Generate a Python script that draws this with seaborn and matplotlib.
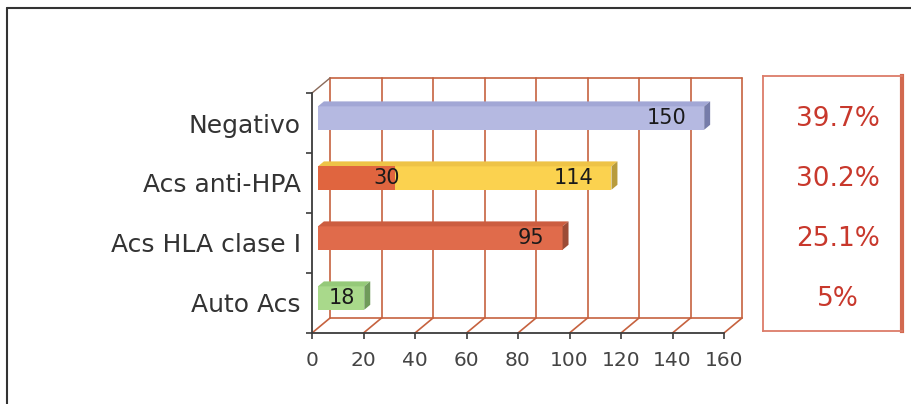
# =====================================================
# ANTICUERPOS - 3D STYLE HORIZONTAL BAR CHART
# =====================================================

import pandas as pd
import matplotlib
matplotlib.use("Agg")
import matplotlib.pyplot as plt
import seaborn as sns
from matplotlib.patches import Polygon
from matplotlib.lines import Line2D
from matplotlib.transforms import blended_transform_factory


# =====================================================
# DATA
# =====================================================

categories = ["Negativo", "Acs anti-HPA", "Acs HLA clase I", "Auto Acs"]
values = [150, 114, 95, 18]
sub_category = "Acs anti-HPA"
sub_value = 30
percent_labels = ["39.7%", "30.2%", "25.1%", "5%"]
x_ticks = [0, 20, 40, 60, 80, 100, 120, 140, 160]

# face colours: front / top / side
front_colors = ["#b5b9e1", "#fbd24f", "#e06b4b", "#a9d98b"]
top_colors = ["#a2a7d5", "#eec347", "#cc5d40", "#95c979"]
side_colors = ["#767ca9", "#b89b3c", "#9c4b36", "#6f9a5a"]
sub_color = "#e0653f"

GRID_COLOR = "#c6623f"
AXIS_COLOR = "#3c3c3c"


# =====================================================
# FIGURE
# =====================================================

sns.set_theme(style="white")
plt.rcParams["font.family"] = ["DejaVu Sans"]

fig = plt.figure(figsize=(9.11, 4.04), dpi=100)
ax = fig.add_axes([312 / 911, 71 / 404, 412 / 911, 240 / 404])

df = pd.DataFrame({"category": categories, "value": values})

BAR_H = 0.39
DX = 7.0      # full depth in x units
DY = 0.25     # full depth in category units
F0, F1 = 0.33, 0.66

sns.barplot(
    data=df, x="value", y="category", hue="category",
    order=categories, palette=front_colors, width=BAR_H,
    orient="h", legend=False, ax=ax, saturation=1, zorder=3,
)
n_main = len(ax.patches)

sns.barplot(
    x=[sub_value], y=[sub_category], order=categories,
    color=sub_color, width=BAR_H, orient="h", ax=ax,
    saturation=1, zorder=4,
)

ax.set_xlim(0, 160)
ax.set_ylim(3.5, -0.5)


# =====================================================
# 3D FACES
# =====================================================

ddx = (F1 - F0) * DX
ddy = (F1 - F0) * DY

for i, p in enumerate(ax.patches):
    p.set_x(p.get_x() + F0 * DX)
    p.set_y(p.get_y() - F0 * DY)
    p.set_linewidth(0)
    if i >= n_main:
        continue
    idx = int(round(p.get_y() + F0 * DY + BAR_H / 2))
    x0, y0 = p.get_x(), p.get_y()
    w, h = p.get_width(), p.get_height()
    top = Polygon([(x0, y0), (x0 + w, y0), (x0 + w + ddx, y0 - ddy), (x0 + ddx, y0 - ddy)],
                  closed=True, facecolor=top_colors[idx], edgecolor="none",
                  zorder=3, clip_on=False)
    side = Polygon([(x0 + w, y0), (x0 + w, y0 + h), (x0 + w + ddx, y0 + h - ddy), (x0 + w + ddx, y0 - ddy)],
                   closed=True, facecolor=side_colors[idx], edgecolor="none",
                   zorder=3, clip_on=False)
    ax.add_patch(top)
    ax.add_patch(side)


# =====================================================
# BACK WALL / FLOOR GRID
# =====================================================

y_top, y_bot = -0.5, 3.5
for t in x_ticks:
    ax.plot([t + DX, t + DX], [y_top - DY, y_bot - DY], color=GRID_COLOR,
            lw=1.2, zorder=1, clip_on=False)
    ax.plot([t, t + DX], [y_bot, y_bot - DY], color=GRID_COLOR,
            lw=1.2, zorder=1, clip_on=False)
ax.plot([DX, 160 + DX], [y_top - DY, y_top - DY], color=GRID_COLOR, lw=1.2, zorder=1, clip_on=False)
ax.plot([DX, 160 + DX], [y_bot - DY, y_bot - DY], color=GRID_COLOR, lw=1.2, zorder=1, clip_on=False)
ax.plot([0, DX], [y_top, y_top - DY], color="#8a6a5a", lw=1.0, zorder=1, clip_on=False)


# =====================================================
# VALUE LABELS
# =====================================================

for i, v in enumerate(values):
    xpos = max(v - 7, v * 0.8) + F0 * DX
    ax.text(xpos, i - F0 * DY, str(v), ha="right", va="center",
            fontsize=15, color="#1a1a1a", zorder=6)

sub_idx = categories.index(sub_category)
ax.text(sub_value + F0 * DX + 2, sub_idx - F0 * DY, str(sub_value),
        ha="right", va="center", fontsize=15, color="#1a1a1a", zorder=6)


# =====================================================
# AXES STYLE
# =====================================================

for s in ["top", "right"]:
    ax.spines[s].set_visible(False)
for s in ["left", "bottom"]:
    ax.spines[s].set_color(AXIS_COLOR)
    ax.spines[s].set_linewidth(1.3)
    ax.spines[s].set_zorder(5)

ax.set_xticks(x_ticks)
ax.set_xticklabels([str(t) for t in x_ticks])
ax.set_yticks(range(len(categories)))
ax.set_yticklabels(categories)
ax.set_yticks([-0.5, 0.5, 1.5, 2.5, 3.5], minor=True)
ax.tick_params(axis="x", direction="out", length=4, width=1.2, color=AXIS_COLOR,
               pad=9, labelsize=14.5, labelcolor="#444444", bottom=True)
ax.tick_params(axis="y", which="major", length=0, pad=8, labelsize=18,
               labelcolor="#333333")
ax.tick_params(axis="y", which="minor", direction="out", length=4, width=1.2,
               color=AXIS_COLOR, left=True)
ax.set_xlabel("")
ax.set_ylabel("")
ax.set_facecolor("none")
ax.grid(False)


# =====================================================
# PERCENT BOX
# =====================================================

box = fig.add_axes([763 / 911, (404 - 331) / 404, 139 / 911, 255 / 404])
box.set_xticks([])
box.set_yticks([])
box.set_facecolor("white")
for s in box.spines.values():
    s.set_color("#dc7c69")
    s.set_linewidth(1.3)
box.spines["right"].set_linewidth(3)
box.spines["right"].set_color("#d2694f")

trans = blended_transform_factory(box.transAxes, ax.transData)
for i, lab in enumerate(percent_labels):
    box.text(0.54, i - 0.07, lab, transform=trans, ha="center", va="center",
             fontsize=19, color="#c8382c")


# =====================================================
# OUTER FRAME
# =====================================================

fig.add_artist(Line2D([7 / 911, 7 / 911], [0, 1 - 8 / 404], transform=fig.transFigure,
                      color="#333333", lw=1.5))
fig.add_artist(Line2D([7 / 911, 1], [1 - 8 / 404, 1 - 8 / 404], transform=fig.transFigure,
                      color="#333333", lw=1.5))

fig.savefig("out.png", dpi=100)
